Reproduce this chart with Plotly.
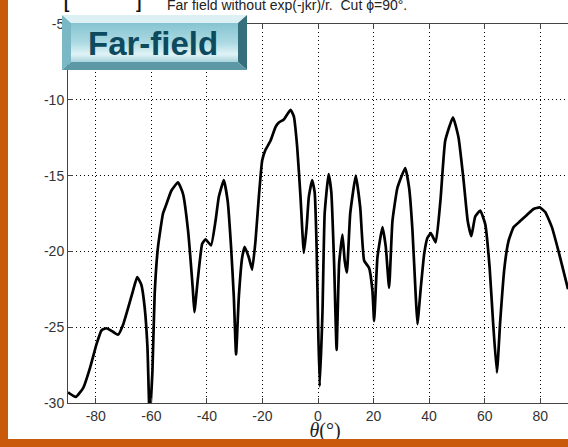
import base64
import plotly.graph_objects as go

# ---- data ----
theta = [-90, -87.2, -84.5, -82.1, -79.7, -77.9, -76.2, -73.8, -72.0, -70.1,
         -68.3, -66.6, -65.1, -63.6, -62.4, -61.4, -60.6, -59.6, -58.8, -57.6,
         -55.8, -54.6, -52.8, -50.4, -48.6, -46.8, -45.1, -44.5, -43.3, -41.7,
         -40.5, -38.5, -36.9, -35.7, -33.9, -32.5, -31.3, -30.3, -29.5, -28.5,
         -27.3, -26.4, -24.9, -23.7, -22.5, -21.3, -20.1, -18.9, -17.1, -15.3,
         -14.1, -12.3, -9.9, -8.7, -7.5, -6.3, -5.1, -4.1, -3.3, -2.1,
         -1.2, -0.5, 0.0, 0.6, 1.6, 2.4, 3.8, 4.8, 5.8, 6.7,
         7.6, 8.8, 9.6, 10.4, 11.6, 13.6, 15.2, 16.6, 18.4, 19.6,
         20.2, 21.4, 23.2, 24.4, 25.6, 26.8, 28.6, 31.4, 32.8, 34.0,
         35.2, 35.8, 37.0, 38.2, 39.4, 40.6, 42.4, 44.1, 45.8, 48.6,
         50.6, 52.4, 53.9, 55.2, 56.6, 58.4, 60.2, 61.8, 63.0, 64.4,
         65.6, 67.1, 68.6, 70.4, 72.8, 75.2, 77.6, 79.8, 81.8, 84.2,
         86.6, 89.6, 90]
gain_db = [-29.3, -29.6, -29.0, -27.7, -26.1, -25.2, -25.07, -25.3, -25.5, -24.8,
           -23.7, -22.6, -21.7, -22.2, -23.7, -26.3, -31.0, -27.9, -22.8, -19.7,
           -17.5, -16.9, -16.0, -15.44, -16.2, -18.6, -22.4, -24.0, -21.9, -19.5,
           -19.2, -19.6, -18.0, -16.4, -15.3, -16.7, -19.7, -23.0, -26.8, -23.0,
           -20.4, -19.7, -20.4, -21.2, -19.3, -16.4, -14.0, -13.3, -12.7, -11.8,
           -11.5, -11.3, -10.66, -11.1, -13.1, -16.4, -20.1, -18.4, -16.4, -15.3,
           -16.1, -19.7, -24.5, -28.9, -24.1, -17.5, -14.9, -16.1, -20.8, -26.5,
           -20.8, -18.9, -20.6, -21.4, -17.5, -15.0, -17.1, -20.6, -21.1, -22.6,
           -24.6, -20.4, -18.4, -19.7, -22.4, -18.0, -15.8, -14.5, -15.8, -18.6,
           -23.0, -24.8, -22.4, -20.2, -19.1, -18.8, -19.4, -16.6, -12.7, -11.15,
           -12.5, -15.3, -18.0, -19.0, -17.7, -17.3, -18.2, -21.1, -24.6, -28.0,
           -24.6, -21.1, -19.3, -18.4, -18.0, -17.6, -17.2, -17.1, -17.4, -18.4,
           -20.0, -22.2, -22.5]
x_ticks = [-80, -60, -40, -20, 0, 20, 40, 60, 80]
y_ticks = [-30, -25, -20, -15, -10, -5]
x_title = "<i>\u03b8</i>(\u00b0)"

W, H = 568, 447
L, R, T, B = 68, 0, 24, 44
PW, PH = W - L - R, H - T - B
X0, X1, Y0, Y1 = -90, 90, -30, -5


def px2x(px):
    return (px - L) / PW


def py2y(py):
    return (H - B - py) / PH


fig = go.Figure()
fig.add_trace(go.Scatter(
    x=theta, y=gain_db, mode="lines",
    line=dict(color="black", width=2.7, shape="spline", smoothing=0.4),
    showlegend=False, hoverinfo="skip"))

axis_font = dict(family="Liberation Sans, Arial, sans-serif", size=14, color="#333333")
fig.update_layout(
    xaxis=dict(
        range=[X0, X1], tickvals=x_ticks, ticktext=[str(v) for v in x_ticks],
        showgrid=True, gridcolor="black", griddash="1px,3px", gridwidth=1,
        zeroline=False, showline=True, linecolor="#444444", linewidth=1,
        mirror="ticks", ticks="inside", ticklen=5, tickcolor="#444444",
        tickfont=axis_font),
    # axis title placed as a tick label of an overlay axis, so the frame can cover its lower part
    xaxis2=dict(
        overlaying="x", side="bottom", anchor="y", range=[X0, X1],
        tickvals=[X0 + (325 - L) / PW * (X1 - X0)], ticktext=[x_title],
        showgrid=False, zeroline=False, showline=False, ticks="",
        ticklabelstandoff=13,
        tickfont=dict(family="Liberation Serif, Times New Roman, serif", size=20, color="#222222")),
    yaxis=dict(
        range=[Y0, Y1], tickvals=y_ticks, ticktext=[str(v) for v in y_ticks],
        showgrid=True, gridcolor="black", griddash="1px,3px", gridwidth=1,
        zeroline=False, showline=True, linecolor="#444444", linewidth=1,
        mirror=False, ticks="inside", ticklen=5, tickcolor="#444444",
        tickfont=axis_font),
)
fig.add_trace(go.Scatter(x=[None], y=[None], xaxis="x2", yaxis="y", mode="lines",
                         showlegend=False, hoverinfo="skip"))

# badge image (bevelled teal button)
svg = """<svg xmlns='http://www.w3.org/2000/svg' width='185' height='55' viewBox='0 0 185 55'>
<defs><linearGradient id='badgeFace' x1='0' y1='0' x2='0' y2='1'>
<stop offset='0' stop-color='#86C4D1'/><stop offset='0.5' stop-color='#ACD9E2'/>
<stop offset='0.8' stop-color='#E0F3F6'/><stop offset='1' stop-color='#A8D3DC'/>
</linearGradient></defs>
<polygon points='0,0 185,0 176,8 9,8' fill='#DDF1F5'/>
<polygon points='0,0 9,8 9,47 0,55' fill='#7AB8C6'/>
<polygon points='185,0 185,55 176,47 176,8' fill='#356F7C'/>
<polygon points='0,55 9,47 176,47 185,55' fill='#5C98A5'/>
<rect x='9' y='8' width='167' height='39' fill='url(#badgeFace)'/>
</svg>"""
src = "data:image/svg+xml;base64," + base64.b64encode(svg.encode()).decode()
fig.add_layout_image(dict(
    source=src, xref="paper", yref="paper",
    x=px2x(62), y=py2y(15), sizex=185 / PW, sizey=55 / PH,
    xanchor="left", yanchor="top", sizing="stretch", layer="above"))

# orange frame (left and bottom strips) as a full-page overlay image
orange = "#C95A0B"
frame_svg = (f"<svg xmlns='http://www.w3.org/2000/svg' width='{W}' height='{H}' viewBox='0 0 {W} {H}'>"
             f"<rect x='0' y='439' width='{W}' height='{H - 439}' fill='{orange}'/>"
             f"<rect x='0' y='0' width='8' height='{H}' fill='{orange}'/></svg>")
frame_src = "data:image/svg+xml;base64," + base64.b64encode(frame_svg.encode()).decode()
fig.add_layout_image(dict(
    source=frame_src, xref="paper", yref="paper",
    x=px2x(0), y=py2y(0), sizex=W / PW, sizey=H / PH,
    xanchor="left", yanchor="top", sizing="stretch", layer="above"))

# the same strips as shapes as well
fig.add_shape(type="rect", xref="paper", yref="paper", layer="above",
              x0=px2x(0), x1=px2x(W), y0=py2y(439), y1=py2y(H),
              fillcolor=orange, line=dict(width=0))
fig.add_shape(type="rect", xref="paper", yref="paper", layer="above",
              x0=px2x(0), x1=px2x(8), y0=py2y(0), y1=py2y(H),
              fillcolor=orange, line=dict(width=0))

ann = []
ann.append(dict(text="<b>Far-field</b>", x=px2x(153), y=py2y(44), xref="paper", yref="paper",
                xanchor="center", yanchor="middle", showarrow=False,
                font=dict(family="Liberation Sans, Arial, sans-serif", size=33, color="#0D4A5E")))
ann.append(dict(text="Far field without exp(-jkr)/r.  Cut \u03d5=90\u00b0.", x=px2x(165), y=py2y(15),
                xref="paper", yref="paper", xanchor="left", yanchor="bottom", showarrow=False,
                font=dict(family="Liberation Sans, Arial, sans-serif", size=14, color="#222222")))
ann.append(dict(text="<b>[</b>", x=px2x(62), y=py2y(14), xref="paper", yref="paper",
                xanchor="left", yanchor="bottom", showarrow=False,
                font=dict(family="Liberation Sans, Arial, sans-serif", size=16, color="#111111")))
ann.append(dict(text="<b>]</b>", x=px2x(134), y=py2y(14), xref="paper", yref="paper",
                xanchor="left", yanchor="bottom", showarrow=False,
                font=dict(family="Liberation Sans, Arial, sans-serif", size=16, color="#111111")))
fig.update_layout(annotations=ann)

fig.update_layout(
    width=W, height=H, margin=dict(l=L, r=R, t=T, b=B),
    paper_bgcolor="white", plot_bgcolor="white", showlegend=False)

fig.write_html("out.html")
